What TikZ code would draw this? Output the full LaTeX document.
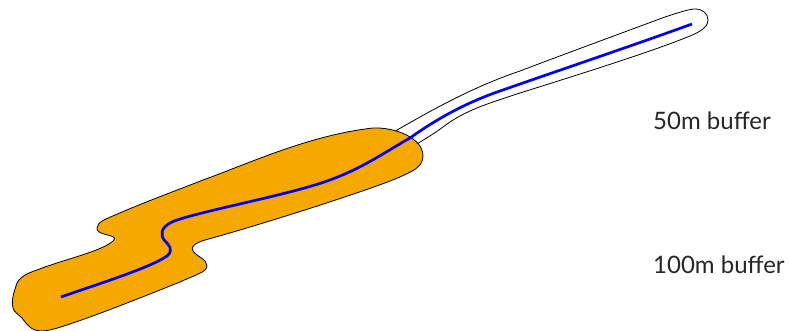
\documentclass[tikz,border=0pt]{standalone}
\usepackage{fontspec}
\setmainfont{Lato}
\tikzset{
  buffer/.style={line width=0.8pt,black},
  stream/.style={line width=2.7pt,line cap=butt,blue},
  tag/.style={anchor=west,inner sep=0pt,text=black!85,font=\fontsize{24}{28}\selectfont}
}
\begin{document}
\begin{tikzpicture}[x=1pt,y=-1pt]
  \definecolor{c0}{RGB}{245,168,0}
  \useasboundingbox (0,0) rectangle (789,331);

  % the 50m buffer
  \draw[buffer] (385,137) .. controls (430,111) and (470,88) .. (520,71)
    .. controls (570,52) and (630,30) .. (665,17)
    .. controls (680,12) and (690,9) .. (695,9)
    .. controls (703,9) and (708,14) .. (708,20)
    .. controls (708,28) and (698,33) .. (685,38)
    .. controls (650,52) and (590,71) .. (520,93)
    .. controls (490,103) and (465,110) .. (443,127)
    .. controls (435,133) and (425,139) .. (417,144);

  % the 100m buffer
  \draw[buffer,fill=c0] (13,308) .. controls (11,300) and (14,292) .. (17,283)
    .. controls (22,274) and (32,272) .. (45,267)
    .. controls (70,258) and (105,250) .. (114,240)
    .. controls (118,234) and (96,236) .. (97,228)
    .. controls (97,222) and (106,219) .. (115,215)
    .. controls (145,202) and (175,191) .. (203,180)
    .. controls (250,163) and (310,135) .. (373,128)
    .. controls (395,127) and (423,138) .. (423,156)
    .. controls (423,168) and (410,172) .. (400,177)
    .. controls (370,190) and (260,225) .. (205,240)
    .. controls (195,243) and (190,247) .. (193,251)
    .. controls (197,257) and (207,259) .. (207,266)
    .. controls (207,272) and (195,275) .. (180,282)
    .. controls (140,298) and (100,314) .. (67,325)
    .. controls (55,329) and (47,331) .. (42,331)
    .. controls (32,331) and (28,326) .. (22,318)
    .. controls (18,314) and (14,312) .. cycle;

  % the stream line
  \draw[stream] (61,297) .. controls (95,285) and (150,268) .. (167,256)
    .. controls (174,250) and (169,245) .. (165,241)
    .. controls (160,235) and (160,228) .. (172,222)
    .. controls (195,212) and (290,195) .. (330,180)
    .. controls (365,167) and (385,152) .. (410,138)
    .. controls (435,120) and (465,103) .. (500,91)
    .. controls (560,70) and (640,43) .. (692,24);

  % the labels
  \node[tag] (buffer50) at (653,121) {50m buffer};
  \node[tag] (buffer100) at (653,265) {100m buffer};
\end{tikzpicture}
\end{document}
